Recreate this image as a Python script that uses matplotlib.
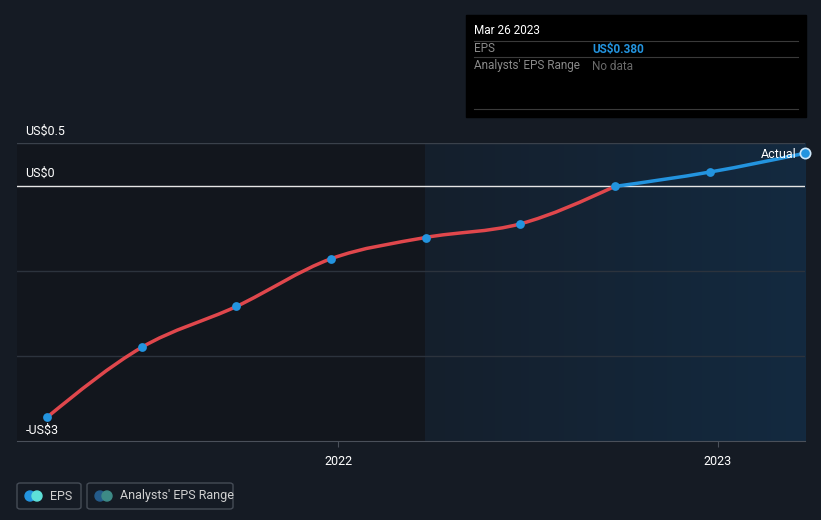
import datetime as dt

import numpy as np
import matplotlib
matplotlib.use("Agg")
import matplotlib.pyplot as plt
import matplotlib.dates as mdates
from matplotlib.path import Path
from matplotlib.patches import PathPatch, FancyBboxPatch, Rectangle, Ellipse

plt.rcParams['font.family'] = ['Roboto', 'DejaVu Sans']

# EPS history (US$), quarterly
dates = ["2021-03-27", "2021-06-26", "2021-09-25", "2021-12-25", "2022-03-26",
         "2022-06-25", "2022-09-24", "2022-12-25", "2023-03-26"]
eps = [-2.72, -1.90, -1.42, -0.86, -0.61, -0.45, -0.01, 0.16, 0.38]
split_index = 6  # red (past) up to here, blue after

y_ticks = [0.5, 0, -3]
y_tick_labels = ["US$0.5", "US$0", "-US$3"]
x_ticks = ["2022-01-01", "2023-01-01"]
x_tick_labels = ["2022", "2023"]

BG = "#151b24"
RED = "#e0474c"
BLUE = "#2394df"


def monotone_path(x, y):
    # cubic bezier path following d3 curveMonotoneX
    x = np.asarray(x, dtype=float)
    y = np.asarray(y, dtype=float)
    n = len(x)
    h = np.diff(x)
    s = np.diff(y) / h
    t = np.zeros(n)
    for i in range(1, n - 1):
        if s[i - 1] * s[i] <= 0:
            t[i] = 0
        else:
            p = (s[i - 1] * h[i] + s[i] * h[i - 1]) / (h[i - 1] + h[i])
            t[i] = (np.sign(s[i - 1]) + np.sign(s[i])) * min(abs(s[i - 1]), abs(s[i]), 0.5 * abs(p))
    t[0] = (3 * s[0] - t[1]) / 2 if n > 2 else s[0]
    t[-1] = (3 * s[-1] - t[-2]) / 2 if n > 2 else s[-1]
    verts = [(x[0], y[0])]
    codes = [Path.MOVETO]
    for i in range(n - 1):
        dx = h[i] / 3
        verts += [(x[i] + dx, y[i] + dx * t[i]), (x[i + 1] - dx, y[i + 1] - dx * t[i + 1]), (x[i + 1], y[i + 1])]
        codes += [Path.CURVE4] * 3
    return Path(verts, codes)


xs = mdates.datestr2num(dates)
ys = np.array(eps)

fig = plt.figure(figsize=(8.21, 5.2), dpi=100, facecolor=BG)
ax = fig.add_axes([17 / 821, 79 / 520, 788 / 821, 298 / 520])
ax.set_facecolor(BG)

x_left = mdates.date2num(dt.datetime(2021, 2, 26))
x_right = xs[-1]
ax.set_xlim(x_left, x_right)
ax.set_ylim(-3, 0.5)

# past region darker, last 12 months shaded blue
shade_start = mdates.date2num(dt.datetime(2022, 3, 25))
ax.add_patch(Rectangle((x_left, -3), shade_start - x_left, 3.5, color="#12161d", zorder=0))
grad = np.linspace(0, 1, 512).reshape(1, -1)
ax.imshow(grad, extent=(shade_start, x_right, -3, 0.5), aspect="auto", interpolation="bilinear",
          cmap=matplotlib.colors.LinearSegmentedColormap.from_list("s", ["#151f2c", "#132a40"]),
          zorder=0.5)

for v in [-1, -2]:
    ax.axhline(v, color="#2c333d", lw=1, zorder=1)
ax.axhline(0.5, color="#3a414b", lw=1, zorder=1)
ax.axhline(0, color="#e6e6e6", lw=1, zorder=2)

ax.add_patch(PathPatch(monotone_path(xs[:split_index + 1], ys[:split_index + 1]),
                       fill=False, edgecolor=RED, lw=2.5, zorder=3, capstyle="round"))
ax.add_patch(PathPatch(monotone_path(xs[split_index:], ys[split_index:]),
                       fill=False, edgecolor=BLUE, lw=2.5, zorder=3, capstyle="round"))
ax.scatter(xs[:-1], ys[:-1], s=40, color=BLUE, zorder=4, linewidths=0)
ax.scatter(xs[-1:], ys[-1:], s=55, color=BLUE, edgecolors="#cfe8fa", linewidths=1.2, zorder=5, clip_on=False)
ax.text(xs[-1] - 8, ys[-1] - 0.01, "Actual", color="white", fontsize=9, ha="right", va="center", zorder=5)

for spine in ["top", "right", "left"]:
    ax.spines[spine].set_visible(False)
ax.spines["bottom"].set_color("#4a505a")
ax.set_yticks([])
ax.set_xticks(mdates.datestr2num(x_ticks))
ax.set_xticklabels(x_tick_labels)
ax.tick_params(axis="x", colors="#4a505a", labelcolor="white", labelsize=9, length=4, pad=6)

for v, lab in zip(y_ticks, y_tick_labels):
    off = 0.14 if v != -3 else 0.13
    ax.text(x_left + 8, v + off, lab, color="white", fontsize=9, ha="left", va="center")

# tooltip box
fig.patches.append(Rectangle((466 / 821, 1 - 117 / 520), 340 / 821, 102 / 520,
                             transform=fig.transFigure, color="black", zorder=10))
for yl in [41, 57, 109]:
    fig.add_artist(plt.Line2D([474 / 821, 798 / 821], [1 - yl / 520] * 2, transform=fig.transFigure,
                              color="#3a3a3a", lw=0.8, zorder=11))
fig.text(474 / 821, 1 - 31 / 520, "Mar 26 2023", color="white", fontsize=8.5, va="center", zorder=12)
fig.text(474 / 821, 1 - 49 / 520, "EPS", color="#8a8a8a", fontsize=8.5, va="center", zorder=12)
fig.text(592 / 821, 1 - 49 / 520, "US$0.380", color=BLUE, fontsize=8.5, fontweight="bold", va="center", zorder=12)
fig.text(474 / 821, 1 - 66 / 520, "Analysts' EPS Range", color="#8a8a8a", fontsize=8.5, va="center", zorder=12)
fig.text(592 / 821, 1 - 66 / 520, "No data", color="#6a6a6a", fontsize=8.5, va="center", zorder=12)

# legend
for (x0, w, label, c1, c2) in [(17, 64, "EPS", "#2394df", "#5ee0d8"),
                                (87, 146, "Analysts' EPS Range", "#245b8a", "#3d8a86")]:
    fig.add_artist(FancyBboxPatch((x0 / 821, 1 - 509 / 520), w / 821, 26 / 520,
                                  boxstyle="round,pad=0,rounding_size=0.004", transform=fig.transFigure,
                                  facecolor=BG, edgecolor="#454c56", lw=1, zorder=20))
    fig.add_artist(Ellipse(((x0 + 13) / 821, 1 - 496 / 520), 10 / 821, 10 / 520,
                           transform=fig.transFigure, color=c1, zorder=21))
    fig.add_artist(Ellipse(((x0 + 20) / 821, 1 - 496 / 520), 10 / 821, 10 / 520,
                           transform=fig.transFigure, color=c2, zorder=22))
    fig.text((x0 + 33) / 821, 1 - 496 / 520, label, color="#d0d0d0", fontsize=9, va="center", zorder=23)

fig.savefig("out.png", dpi=100, facecolor=BG)
